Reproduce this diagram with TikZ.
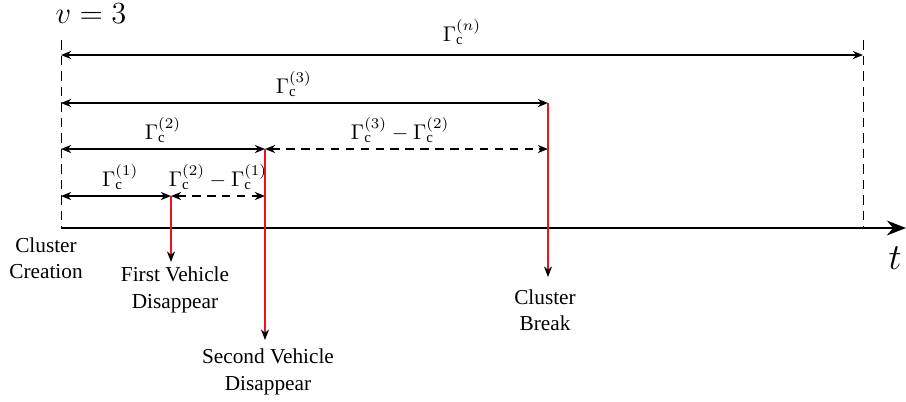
\documentclass[tikz,border=0pt]{standalone}
\usepackage{fontspec}
\setmainfont{Liberation Serif}
\usetikzlibrary{positioning,arrows.meta,calc}
\definecolor{evred}{HTML}{E8141B}
\newcommand{\gc}[1]{\Gamma_{\mathrm{c}}^{(#1)}}
\tikzset{
  span/.style={{Stealth[length=4.8pt,width=3.8pt]}-{Stealth[length=4.8pt,width=3.8pt]},line width=0.7pt},
  gap/.style={span,dash pattern=on 4pt off 3pt},
  bound/.style={dash pattern=on 4.5pt off 2.8pt,line width=0.45pt},
  axis/.style={-{Stealth[length=9pt,width=7pt]},line width=0.9pt},
  evt/.style={-{Stealth[length=5pt,width=3.8pt,black]},draw=evred,line width=0.6pt},
  lbl/.style={font=\fontsize{10}{12.4}\selectfont,align=center,inner sep=1pt},
  tag/.style={above,inner sep=2.5pt,font=\fontsize{10}{12}\selectfont},
}

\begin{document}
\begin{tikzpicture}[x=0.47pt,y=-0.47pt]
  \useasboundingbox (0,0) rectangle (906,401);

  % time axis
  \coordinate (t0) at (61,228);
  \coordinate (tn) at (863,228);
  \coordinate (tend) at (906,228);
  \coordinate (top0) at (61,40);
  \coordinate (topn) at (863,40);
  \draw[axis] (t0) -- (tend);
  \draw[bound] (top0) -- (t0);
  \draw[bound] (topn) -- (tn);
  \node[font=\fontsize{13.5}{16}\selectfont] (vel) at (91,14) {$v=3$};
  \node[font=\fontsize{19}{22}\selectfont] (tlab) at (895,258) {$t$};

  % interval levels
  \coordinate (a0) at (61,196);  \coordinate (a1) at (171,196); \coordinate (a2) at (265,196);
  \coordinate (b0) at (61,149);  \coordinate (b2) at (265,149); \coordinate (b3) at (548,149);
  \coordinate (c0) at (61,103);  \coordinate (c3) at (548,103);
  \coordinate (d0) at (61,55);   \coordinate (dn) at (863,55);

  \draw[span] (a0) -- (a1) node[tag,midway,xshift=2pt] {$\gc{1}$};
  \draw[gap]  (a1) -- (a2) node[tag,midway] {$\gc{2}-\gc{1}$};
  \draw[span] (b0) -- (b2) node[tag,midway] {$\gc{2}$};
  \draw[gap]  (b2) -- (b3) node[tag,midway,xshift=-3pt] {$\gc{3}-\gc{2}$};
  \draw[span] (c0) -- (c3) node[tag,midway,xshift=-5pt] {$\gc{3}$};
  \draw[span] (d0) -- (dn) node[tag,midway,yshift=2pt] {$\gc{n}$};

  % events
  \node[lbl] (create) at (46,258) {Cluster\\Creation};
  \node[lbl] (first) at (175,290) {First Vehicle\\Disappear};
  \node[lbl] (second) at (268,372) {Second Vehicle\\Disappear};
  \node[lbl] (brk) at (545,310) {Cluster\\Break};
  \coordinate (e1) at (171,262);
  \coordinate (e2) at (265,340);
  \coordinate (e3) at (548,277);
  \draw[evt] (a1) -- (e1);
  \draw[evt] (b2) -- (e2);
  \draw[evt] (c3) -- (e3);
\end{tikzpicture}
\end{document}
